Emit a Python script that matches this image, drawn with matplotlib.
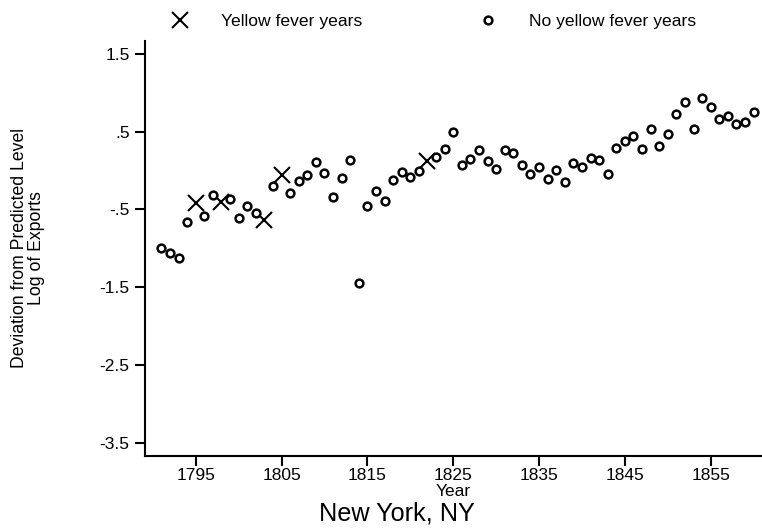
import matplotlib
matplotlib.use('Agg')
import matplotlib.pyplot as plt
import numpy as np

# ── Data: deviation of log exports from predicted level, New York ───────────
years = list(range(1791, 1861))
export_dev = [
    -0.99, -1.06, -1.12, -0.66, -0.42, -0.58, -0.32, -0.40, -0.37, -0.61,
    -0.46, -0.55, -0.63, -0.20, -0.06, -0.29, -0.14, -0.06, 0.11, -0.03,
    -0.34, -0.09, 0.14, -1.45, -0.45, -0.26, -0.39, -0.12, -0.02, -0.08,
    0.00, 0.12, 0.18, 0.28, 0.50, 0.07, 0.15, 0.26, 0.12, 0.02,
    0.27, 0.22, 0.07, -0.05, 0.04, -0.11, 0.01, -0.15, 0.10, 0.05,
    0.16, 0.13, -0.05, 0.29, 0.38, 0.44, 0.28, 0.53, 0.31, 0.47,
    0.73, 0.88, 0.54, 0.93, 0.82, 0.66, 0.70, 0.60, 0.63, 0.76,
]
fever_years = [1795, 1798, 1803, 1805, 1822]

x_ticks = [1795, 1805, 1815, 1825, 1835, 1845, 1855]
y_ticks = [1.5, 0.5, -0.5, -1.5, -2.5, -3.5]
y_tick_labels = ['1.5', '.5', '-.5', '-1.5', '-2.5', '-3.5']

years = np.array(years)
export_dev = np.array(export_dev)
is_fever = np.isin(years, fever_years)

plt.rcParams['font.family'] = ['Liberation Sans', 'DejaVu Sans']

fig = plt.figure(figsize=(7.62, 5.31), dpi=100)
ax = fig.add_axes([145 / 762, 1 - 456 / 531, 1 - 145 / 762, (456 - 41) / 531])

ax.plot(years[is_fever], export_dev[is_fever], linestyle='none', marker='x',
        markersize=12, markeredgewidth=1.5, color='black', label='Yellow fever years')
ax.plot(years[~is_fever], export_dev[~is_fever], linestyle='none', marker='o',
        markersize=5.6, markeredgewidth=1.8, markerfacecolor='white',
        markeredgecolor='black', label='No yellow fever years')

ax.set_xlim(1789.09, 1860.98)
ax.set_ylim(-3.671, 1.667)
ax.set_xticks(x_ticks)
ax.set_yticks(y_ticks, y_tick_labels)

for side in ['top', 'right']:
    ax.spines[side].set_visible(False)
for side in ['left', 'bottom']:
    ax.spines[side].set_linewidth(1.5)
ax.tick_params(axis='both', direction='out', length=7, width=1.5, labelsize=12.5)
ax.tick_params(axis='x', pad=2)
ax.tick_params(axis='y', pad=4)

# axis titles
fig.text(28 / 762, 1 - 248.5 / 531, 'Deviation from Predicted Level\nLog of Exports',
         rotation=90, ha='center', va='center', fontsize=12.7, linespacing=1.0,
         multialignment='center')
fig.text(453 / 762, 1 - 492 / 531, 'Year', ha='center', va='center', fontsize=12.5)
fig.text(397 / 762, 1 - 514 / 531, 'New York, NY', ha='center', va='center', fontsize=18.2)

# legend across the top
fig.legend(loc='center left', bbox_to_anchor=(171 / 762, 1 - 21 / 531), ncol=2,
           frameon=False, fontsize=12.6, handlelength=1.0, handletextpad=1.85,
           columnspacing=6.7, borderpad=0, borderaxespad=0)

plt.savefig('out.png', dpi=100)
